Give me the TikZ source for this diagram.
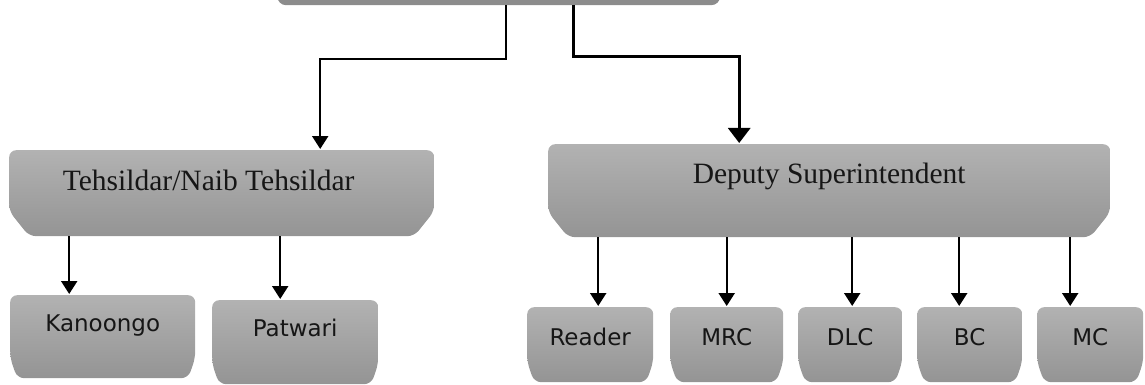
\documentclass[tikz,border=0pt]{standalone}
\usepackage{fontspec}
\usepackage{xcolor}
\usepackage{tikz}
\usetikzlibrary{arrows.meta}
\newfontfamily\headfont{Liberation Serif}
\newfontfamily\unitfont{DejaVu Sans}
\definecolor{boxtop}{RGB}{178,178,178}
\definecolor{boxmid}{RGB}{167,167,167}
\definecolor{boxbot}{RGB}{148,148,148}
\definecolor{rootgray}{RGB}{140,140,140}
\definecolor{inktext}{RGB}{22,22,22}

\tikzset{
  snipbox/.style 2 args={inner sep=0pt, anchor=north west, text=inktext, align=center,
    path picture={
      \shade[top color=boxtop, middle color=boxmid, bottom color=boxbot, rounded corners=7pt]
        ([yshift=#2]path picture bounding box.south west)
        -- (path picture bounding box.north west)
        -- (path picture bounding box.north east)
        -- ([yshift=#2]path picture bounding box.south east)
        -- ([xshift=-#1]path picture bounding box.south east)
        -- ([xshift=#1]path picture bounding box.south west) -- cycle;
    }},
  rootbox/.style={inner sep=0pt, anchor=north west,
    path picture={
      \fill[rootgray, rounded corners=9pt] (path picture bounding box.south west)
        rectangle (path picture bounding box.north east);
    }},
  headbox/.style={snipbox={20pt}{25pt}, font=\headfont\fontsize{29.5}{34}\selectfont},
  unitbox/.style={snipbox={7pt}{20pt}, font=\unitfont\fontsize{23}{27}\selectfont},
  link/.style={line width=2.2pt, -{Triangle[width=16pt,length=13pt]}, shorten >=1pt},
  biglink/.style={line width=3pt, -{Triangle[width=22pt,length=15pt]}, shorten >=1pt}
}

\begin{document}
\begin{tikzpicture}[x=1pt,y=1pt]
  \useasboundingbox (0,0) rectangle (1145,-385);

  % Top box (cut off by the page edge)
  \node[rootbox, minimum width=443pt, minimum height=65pt] (top) at (277,60) {};

  % Second level
  \node[headbox, minimum width=425pt, text height=40pt, text depth=46pt]
    (tehsildar) at (9,-150) {Tehsildar/Naib Tehsildar\hspace*{26pt}};
  \node[headbox, minimum width=562pt, text height=39pt, text depth=54pt]
    (deputy) at (548,-144) {Deputy Superintendent};

  % Third level under Tehsildar
  \node[unitbox, minimum width=185pt, text height=36pt, text depth=47pt]
    (kanoongo) at (10,-295) {Kanoongo};
  \node[unitbox, minimum width=166pt, text height=36pt, text depth=48pt]
    (patwari) at (212,-300) {Patwari};

  % Third level under Deputy Superintendent
  \node[unitbox, minimum width=126pt, text height=38pt, text depth=37pt]
    (reader) at (527,-307) {Reader};
  \node[unitbox, minimum width=113pt, text height=38pt, text depth=37pt]
    (mrc) at (670,-307) {MRC};
  \node[unitbox, minimum width=104pt, text height=38pt, text depth=37pt]
    (dlc) at (798,-307) {DLC};
  \node[unitbox, minimum width=105pt, text height=38pt, text depth=37pt]
    (bc) at (917,-307) {BC};
  \node[unitbox, minimum width=106pt, text height=38pt, text depth=37pt]
    (mc) at (1037,-307) {MC};

  % Connectors from the top box
  \draw[link] ([xshift=7.5pt]top.south) -- ++(0,-54) -| ([xshift=98.5pt]tehsildar.north);
  \draw[biglink] ([xshift=74.5pt]top.south) -- ++(0,-51) -| ([xshift=-90pt]deputy.north);

  % Connectors to the units
  \draw[link] ([xshift=-33.5pt]kanoongo.north |- tehsildar.south) -- ([xshift=-33.5pt]kanoongo.north);
  \draw[link] ([xshift=-15pt]patwari.north |- tehsildar.south) -- ([xshift=-15pt]patwari.north);
  \draw[link] ([xshift=8pt]reader.north |- deputy.south) -- ([xshift=8pt]reader.north);
  \draw[link] (mrc.north |- deputy.south) -- (mrc.north);
  \draw[link] ([xshift=2pt]dlc.north |- deputy.south) -- ([xshift=2pt]dlc.north);
  \draw[link] ([xshift=-10.5pt]bc.north |- deputy.south) -- ([xshift=-10.5pt]bc.north);
  \draw[link] ([xshift=-20pt]mc.north |- deputy.south) -- ([xshift=-20pt]mc.north);
\end{tikzpicture}
\end{document}
